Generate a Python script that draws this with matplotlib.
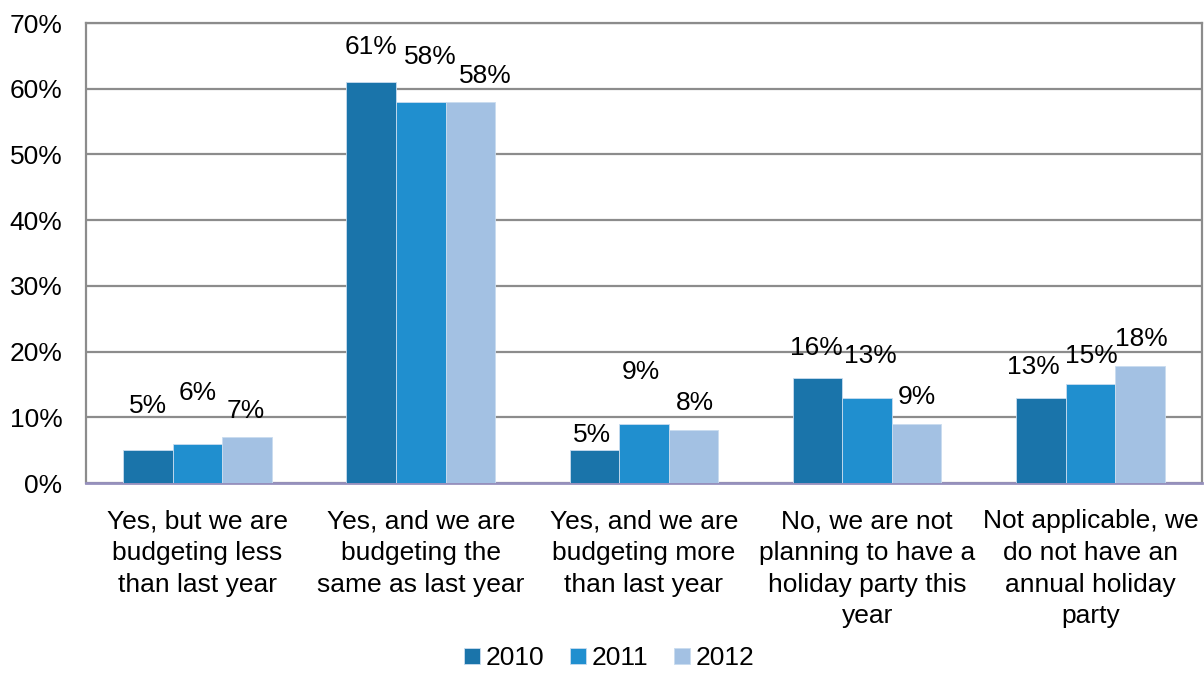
"""Holiday party budget survey - grouped bars by year"""

import numpy as np
from matplotlib import pyplot as plt
from matplotlib.ticker import MultipleLocator, FuncFormatter

CATEGORIES = ['Yes, but we are\nbudgeting less\nthan last year',
              'Yes, and we are\nbudgeting the\nsame as last year',
              'Yes, and we are\nbudgeting more\nthan last year',
              'No, we are not\nplanning to have a\nholiday party this\nyear',
              'Not applicable, we\ndo not have an\nannual holiday\nparty']
YEARS = ['2010', '2011', '2012']
VALS_2010 = [5, 61, 5, 16, 13]
VALS_2011 = [6, 58, 9, 13, 15]
VALS_2012 = [7, 58, 8, 9, 17.8]

COLORS = ['#1a74aa', '#208fcf', '#a3c1e3']

# label offsets (pixels) from top centre of each bar, Excel nudged these around
LABEL_OFFSETS = [
    [(0, 44), (0, 35), (-2, 15), (-1, 30), (-7, 31)],
    [(0, 51), (10, 45), (-3, 52), (3, 42), (1, 28)],
    [(-1, 26), (15, 26), (1, 27), (0, 27), (1, 27)],
]


def main():
    plt.rcParams['font.family'] = ['Liberation Sans', 'DejaVu Sans']
    fs = 19

    fig = plt.figure(figsize=(12.04, 6.73), dpi=100)
    ax = fig.add_axes([0.0714, 0.2823, 0.9269, 0.6835])

    x = np.arange(len(CATEGORIES))
    width = 0.222
    series = [VALS_2010, VALS_2011, VALS_2012]

    for i, (vals, year) in enumerate(zip(series, YEARS)):
        pos = x + (i - 1) * width
        ax.bar(pos, vals, width, color=COLORS[i], label=year,
               edgecolor='#c9dcef', linewidth=0.6, zorder=3)
        for j, v in enumerate(vals):
            dx, dy = LABEL_OFFSETS[i][j]
            ax.annotate(f'{v:.0f}%', (pos[j], v), xytext=(dx, dy),
                        textcoords='offset pixels', ha='center', va='center',
                        fontsize=fs, zorder=4)

    ax.set_xlim(-0.5, len(CATEGORIES) - 0.5)
    ax.set_ylim(0, 70)
    ax.yaxis.set_major_locator(MultipleLocator(10))
    ax.yaxis.set_major_formatter(FuncFormatter(lambda v, p: f'{v:.0f}%'))
    ax.grid(axis='y', color='#8c8c8c', linewidth=1.6, zorder=0)
    ax.set_xticks(x)
    ax.set_xticklabels(CATEGORIES, fontsize=fs, linespacing=1.4)
    ax.tick_params(axis='x', length=0, pad=19)
    ax.tick_params(axis='y', length=0, pad=17, labelsize=fs)

    for side in ['left', 'right', 'top']:
        ax.spines[side].set_color('#8c8c8c')
        ax.spines[side].set_linewidth(1.6)
    ax.spines['bottom'].set_color('#9690bd')
    ax.spines['bottom'].set_linewidth(2)

    fig.legend(loc='lower center', bbox_to_anchor=(0.506, 0.004), ncol=3,
               frameon=False, fontsize=fs, handlelength=0.6, handleheight=0.6,
               handletextpad=0.2, columnspacing=1.0, borderpad=0.0,
               borderaxespad=0.0)

    fig.savefig('out.png', dpi=100)


if __name__ == '__main__':
    main()
